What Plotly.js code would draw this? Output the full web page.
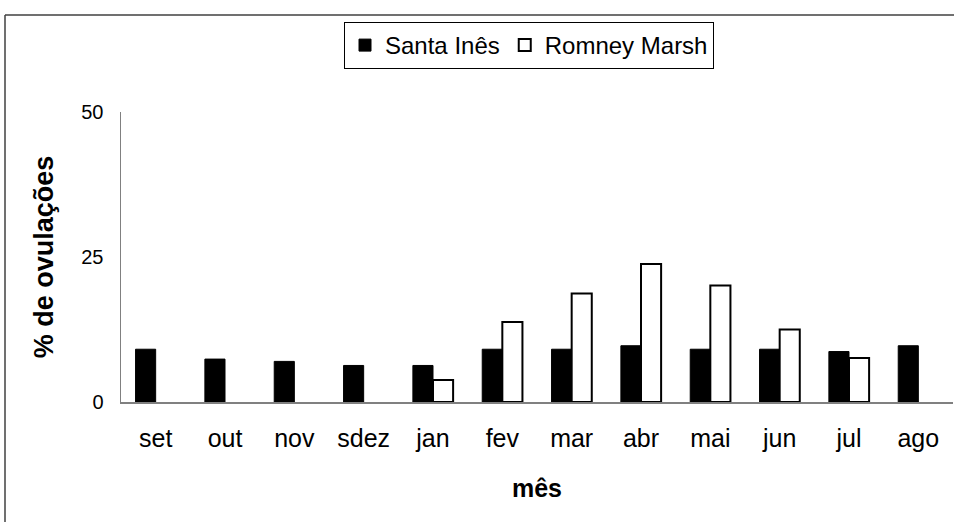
<!DOCTYPE html>
<html>
<head>
<meta charset="utf-8">
<script src="https://cdn.plot.ly/plotly-3.0.1.min.js"></script>
<style>html,body{margin:0;padding:0;background:#fff;}#chart{width:954px;height:522px;}</style>
</head>
<body>
<div id="chart"></div>
<script>
const months = ['set','out','nov','sdez','jan','fev','mar','abr','mai','jun','jul','ago'];
const santaInes = [9.1, 7.4, 7.0, 6.3, 6.3, 9.1, 9.1, 9.7, 9.1, 9.1, 8.7, 9.7];
const romneyMarsh = [null, null, null, null, 3.8, 13.8, 18.7, 23.8, 20.1, 12.5, 7.6, null];
const yTicks = [0, 25, 50];

const FONT = 'Liberation Sans, Arial, sans-serif';

const traces = [
  {type:'bar', name:'Santa Inês', x:months, y:santaInes,
   marker:{color:'#000000', line:{color:'#000000', width:1}}},
  {type:'bar', name:'Romney Marsh', x:months, y:romneyMarsh,
   marker:{color:'#ffffff', line:{color:'#000000', width:2}}}
];

const L = 121, R = 953, T = 112, B = 402;
const px = v => (v - L) / (R - L);
const py = v => (B - v) / (B - T);

const layout = {
  width:954, height:522,
  margin:{l:L, r:954-R, t:T, b:522-B, pad:0},
  paper_bgcolor:'#ffffff', plot_bgcolor:'#ffffff',
  font:{family:FONT, size:20, color:'#000'},
  barmode:'group', bargap:0.42, bargroupgap:0,
  showlegend:true,
  legend:{orientation:'h', x:px(344), y:py(22), xanchor:'left', yanchor:'top',
          bordercolor:'#000', borderwidth:1, bgcolor:'#fff',
          font:{family:FONT, size:24, color:'#000'}, traceorder:'normal'},
  xaxis:{type:'category', showline:true, linecolor:'#808080', linewidth:1.5,
         showgrid:false, zeroline:false, ticks:'', ticklabelstandoff:13,
         tickfont:{family:FONT, size:25},
         title:{text:'<b>mês</b>', font:{family:FONT, size:25}, standoff:29}},
  yaxis:{range:[0,50], tickvals:yTicks, ticktext:yTicks.map(String),
         showline:true, linecolor:'#808080', linewidth:1.5,
         showgrid:false, zeroline:false, ticks:'', ticklabelstandoff:12,
         tickfont:{family:FONT, size:20},
         title:{text:'<b>% de ovulações</b>', font:{family:FONT, size:27}, standoff:20}},
  shapes:[
    {type:'line', xref:'paper', yref:'paper', x0:px(5), x1:px(960), y0:py(15), y1:py(15),
     line:{color:'#404040', width:1.5}},
    {type:'line', xref:'paper', yref:'paper', x0:px(5), x1:px(5), y0:py(15), y1:py(530),
     line:{color:'#404040', width:1.5}}
  ]
};

Plotly.newPlot('chart', traces, layout, {displayModeBar:false, staticPlot:true});
</script>
</body>
</html>
